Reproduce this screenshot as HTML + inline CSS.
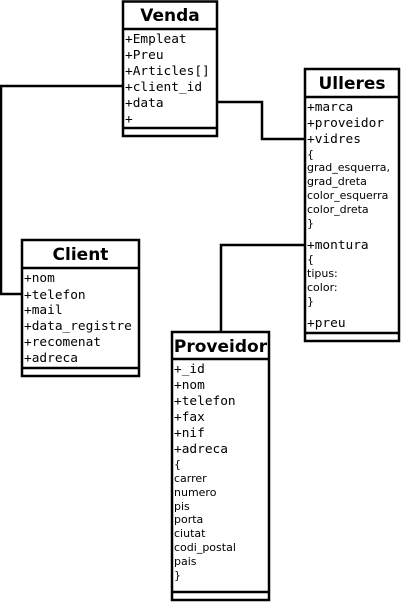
<!DOCTYPE html>
<html><head><meta charset="utf-8"><style>
html,body{margin:0;padding:0;background:#fff;}
svg{display:block}
.t{font-family:"DejaVu Sans","Liberation Sans",sans-serif;font-weight:bold;font-size:17px;text-anchor:middle}
.m{font-family:"DejaVu Sans Mono","Liberation Mono",monospace;font-size:12.8px}
.s{font-family:"DejaVu Sans","Liberation Sans",sans-serif;font-size:11px}
</style></head><body>
<svg width="401" height="602" viewBox="0 0 401 602" xmlns="http://www.w3.org/2000/svg">
<g fill="none" stroke="#000" stroke-width="2.5">
<polyline points="123,86 1,86 1,294 22,294"/>
<polyline points="217,102 262,102 262,139 305,139"/>
<polyline points="305,245 221,245 221,332"/>
<rect x="123" y="1.5" width="94" height="134.5" fill="#fff"/>
<line x1="123" y1="29" x2="217" y2="29"/><line x1="123" y1="128" x2="217" y2="128"/>
<rect x="305" y="69" width="94" height="272" fill="#fff"/>
<line x1="305" y1="97" x2="399" y2="97"/><line x1="305" y1="333" x2="399" y2="333"/>
<rect x="22" y="240" width="117" height="136" fill="#fff"/>
<line x1="22" y1="268" x2="139" y2="268"/><line x1="22" y1="368" x2="139" y2="368"/>
<rect x="172" y="332" width="97" height="268" fill="#fff"/>
<line x1="172" y1="359" x2="269" y2="359"/><line x1="172" y1="592" x2="269" y2="592"/>
</g>
<text class="t" x="170" y="21">Venda</text>
<text class="t" x="352" y="89">Ulleres</text>
<text class="t" x="80.5" y="260">Client</text>
<text class="t" x="220.5" y="352">Proveidor</text>
<g class="m">
<text x="125" y="43">+Empleat</text><text x="125" y="59">+Preu</text><text x="125" y="75">+Articles[]</text><text x="125" y="91">+client_id</text><text x="125" y="107">+data</text><text x="125" y="123">+</text>
<text x="307" y="111">+marca</text><text x="307" y="127">+proveidor</text><text x="307" y="143">+vidres</text><text x="307" y="249">+montura</text><text x="307" y="327">+preu</text>
<text x="24" y="282">+nom</text><text x="24" y="299">+telefon</text><text x="24" y="314">+mail</text><text x="24" y="330">+data_registre</text><text x="24" y="346">+recomenat</text><text x="24" y="362">+adreca</text>
<text x="174" y="373">+_id</text><text x="174" y="389">+nom</text><text x="174" y="405">+telefon</text><text x="174" y="421">+fax</text><text x="174" y="437">+nif</text><text x="174" y="453">+adreca</text>
</g>
<g class="s">
<text x="307" y="158">{</text><text x="307" y="171">grad_esquerra,</text><text x="307" y="185">grad_dreta</text><text x="307" y="199">color_esquerra</text><text x="307" y="213">color_dreta</text><text x="307" y="227">}</text>
<text x="307" y="263">{</text><text x="307" y="277">tipus:</text><text x="307" y="291">color:</text><text x="307" y="305">}</text>
<text x="174" y="468">{</text><text x="174" y="482">carrer</text><text x="174" y="496">numero</text><text x="174" y="510">pis</text><text x="174" y="523">porta</text><text x="174" y="537">ciutat</text><text x="174" y="551">codi_postal</text><text x="174" y="565">pais</text><text x="174" y="579">}</text>
</g>
</svg>
</body></html>
